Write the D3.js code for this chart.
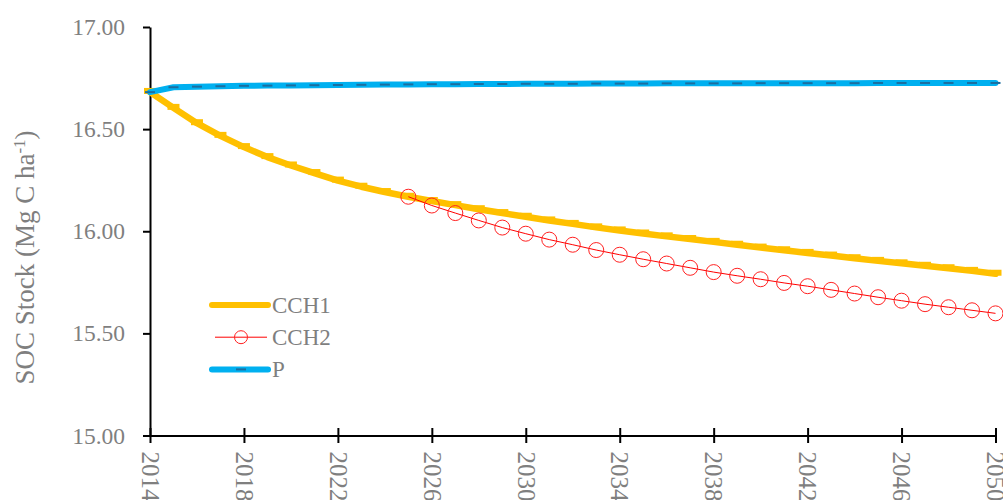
<!DOCTYPE html>
<html>
<head>
<meta charset="utf-8">
<script src="https://cdn.jsdelivr.net/npm/d3@7"></script>
<style>
  body { margin: 0; background: #fff; }
  svg { display: block; font-family: "Palatino Linotype", "Book Antiqua", Palatino, "Liberation Serif", serif; }
</style>
</head>
<body>
<svg id="soc-chart" width="1003" height="500"></svg>
<script>
// years 2014-2050
var years = [2014, 2015, 2016, 2017, 2018, 2019, 2020, 2021, 2022, 2023, 2024, 2025, 2026,
    2027, 2028, 2029, 2030, 2031, 2032, 2033, 2034, 2035, 2036, 2037, 2038, 2039, 2040,
    2041, 2042, 2043, 2044, 2045, 2046, 2047, 2048, 2049, 2050];
var cch2Years = [2025, 2026, 2027, 2028, 2029, 2030, 2031, 2032, 2033, 2034, 2035, 2036,
    2037, 2038, 2039, 2040, 2041, 2042, 2043, 2044, 2045, 2046, 2047, 2048, 2049, 2050];

var cch1 = [16.682, 16.604, 16.529, 16.467, 16.412, 16.363, 16.322, 16.285, 16.248, 16.218,
    16.192, 16.169, 16.148, 16.128, 16.108, 16.089, 16.071, 16.053, 16.036, 16.019, 16.004,
    15.989, 15.975, 15.962, 15.948, 15.934, 15.920, 15.907, 15.894, 15.881, 15.868, 15.855,
    15.843, 15.831, 15.819, 15.806, 15.792];
var cch2 = [16.169, 16.126, 16.089, 16.053, 16.018, 15.988, 15.959, 15.934, 15.908, 15.885,
    15.863, 15.842, 15.821, 15.800, 15.782, 15.765, 15.747, 15.731, 15.713, 15.695, 15.677,
    15.660, 15.643, 15.628, 15.613, 15.598];
var p = [16.681, 16.705, 16.708, 16.710, 16.712, 16.713, 16.714, 16.715, 16.716, 16.717,
    16.718, 16.719, 16.720, 16.720, 16.721, 16.721, 16.722, 16.722, 16.722, 16.723, 16.723,
    16.723, 16.724, 16.724, 16.724, 16.724, 16.725, 16.725, 16.725, 16.725, 16.725, 16.726,
    16.726, 16.726, 16.726, 16.726, 16.726];

var xTicks = [2014, 2018, 2022, 2026, 2030, 2034, 2038, 2042, 2046, 2050];
var yTicks = [15.00, 15.50, 16.00, 16.50, 17.00];
var seriesNames = ["CCH1", "CCH2", "P"];

drawChart();

function toPoints(xs, vs) {
    return xs.map(function (d, i) { return { year: d, value: vs[i] }; });
}

function drawChart() {
    var svg = d3.select("#soc-chart");
    var margin = { top: 27, left: 150 },
        width = 845.5,
        height = 408.5;
    var grey = "#7f7f7f";

    var g = svg.append("g")
        .attr("transform", "translate(" + margin.left + "," + margin.top + ")");

    var x = d3.scaleLinear().domain([2014, 2050]).range([0, width]);
    var y = d3.scaleLinear().domain([15, 17]).range([height, 0]);

    // y axis
    var yAxis = g.append("g")
        .call(d3.axisLeft(y).tickValues(yTicks).tickFormat(d3.format(".2f"))
            .tickSize(7).tickSizeOuter(0).tickPadding(18))
        .attr("font-family", null).attr("font-size", null);
    yAxis.select(".domain").attr("stroke", "#000").attr("stroke-width", 2);
    yAxis.selectAll(".tick line").attr("stroke", "#000").attr("stroke-width", 2);
    yAxis.selectAll(".tick text")
        .attr("fill", grey)
        .style("font-size", "23.5px");

    // x axis, ticks crossing the line, labels turned
    var xAxis = g.append("g")
        .attr("transform", "translate(0," + height + ")")
        .call(d3.axisBottom(x).tickValues(xTicks).tickFormat(d3.format("d")).tickSizeOuter(0))
        .attr("font-family", null).attr("font-size", null);
    xAxis.select(".domain").attr("stroke", "#000").attr("stroke-width", 2);
    xAxis.selectAll(".tick line")
        .attr("y1", -7.5).attr("y2", 7.5)
        .attr("stroke", "#000").attr("stroke-width", 2);
    xAxis.selectAll(".tick text")
        .attr("fill", grey)
        .style("font-size", "25px")
        .attr("text-anchor", "start")
        .attr("y", 0).attr("dy", "0.35em")
        .attr("transform", "translate(0,16) rotate(90)");

    // axis title
    var title = svg.append("text")
        .attr("transform", "translate(34,257.5) rotate(-90)")
        .attr("text-anchor", "middle")
        .attr("fill", grey)
        .style("font-size", "27px");
    title.append("tspan").text("SOC Stock (Mg C ha");
    title.append("tspan").attr("baseline-shift", "super").style("font-size", "17px").text("-1");
    title.append("tspan").text(")");

    var line = d3.line()
        .x(function (d) { return x(d.year); })
        .y(function (d) { return y(d.value); });

    var d1 = toPoints(years, cch1),
        d2 = toPoints(cch2Years, cch2),
        d3p = toPoints(years, p);

    // CCH1
    g.append("path").datum(d1)
        .attr("fill", "none").attr("stroke", "#FFC000")
        .attr("stroke-width", 6.5).attr("stroke-linecap", "round").attr("stroke-linejoin", "round")
        .attr("d", line);
    g.selectAll(".m1").data(d1).enter().append("rect")
        .attr("x", function (d) { return x(d.year) - 6; })
        .attr("y", function (d) { return y(d.value) - 4; })
        .attr("width", 12).attr("height", 6)
        .attr("fill", "#FFC000");

    // CCH2
    g.append("path").datum(d2)
        .attr("fill", "none").attr("stroke", "#FF0000").attr("stroke-width", 1)
        .attr("d", line);
    g.selectAll(".m2").data(d2).enter().append("circle")
        .attr("cx", function (d) { return x(d.year); })
        .attr("cy", function (d) { return y(d.value); })
        .attr("r", 7.5)
        .attr("fill", "none").attr("stroke", "#FF2020").attr("stroke-width", 1);

    // P
    g.append("path").datum(d3p)
        .attr("fill", "none").attr("stroke", "#00B0F0")
        .attr("stroke-width", 6).attr("stroke-linecap", "round").attr("stroke-linejoin", "round")
        .attr("d", line);
    g.selectAll(".m3").data(d3p).enter().append("rect")
        .attr("x", function (d) { return x(d.year) - 5; })
        .attr("y", function (d) { return y(d.value) - 1; })
        .attr("width", 10).attr("height", 2)
        .attr("fill", "#1B6EA0");

    // legend
    var legend = svg.append("g").attr("transform", "translate(212,305)");
    var rowH = 32.2;
    seriesNames.forEach(function (name, i) {
        var row = legend.append("g").attr("transform", "translate(0," + (i * rowH) + ")");
        if (name === "CCH1") {
            row.append("line").attr("x1", 0).attr("x2", 56)
                .attr("stroke", "#FFC000").attr("stroke-width", 6).attr("stroke-linecap", "round");
        } else if (name === "CCH2") {
            row.append("line").attr("x1", 3).attr("x2", 55)
                .attr("stroke", "#FF0000").attr("stroke-width", 1);
            row.append("circle").attr("cx", 29).attr("r", 6.5)
                .attr("fill", "none").attr("stroke", "#FF2020").attr("stroke-width", 1);
        } else {
            row.append("line").attr("x1", 0).attr("x2", 56)
                .attr("stroke", "#00B0F0").attr("stroke-width", 6).attr("stroke-linecap", "round");
            row.append("rect").attr("x", 24).attr("y", -1).attr("width", 10).attr("height", 2)
                .attr("fill", "#1B6EA0");
        }
        row.append("text")
            .attr("x", 60).attr("dy", "0.35em")
            .attr("fill", grey)
            .style("font-size", "23px")
            .text(name);
    });
}
</script>
</body>
</html>
